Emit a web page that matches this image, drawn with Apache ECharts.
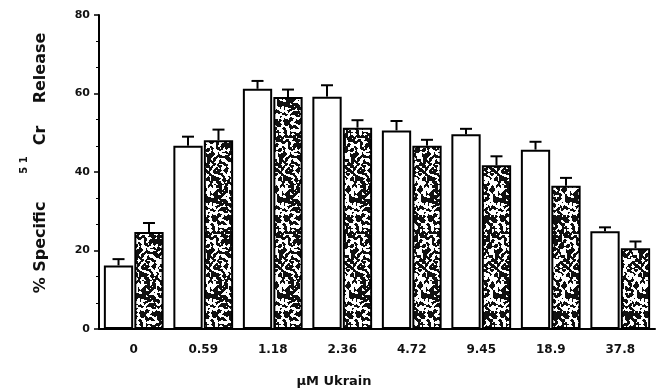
<!DOCTYPE html>
<html>
<head>
<meta charset="utf-8">
<title>51Cr release vs Ukrain</title>
<script src="https://cdn.jsdelivr.net/npm/echarts@6/dist/echarts.min.js"></script>
<style>
  html, body { margin: 0; padding: 0; background: #fff; }
  #chart { width: 660px; height: 391px; }
</style>
</head>
<body>
<div id="chart"></div>
<script>
// doses (x categories)
const doses = ['0', '0.59', '1.18', '2.36', '4.72', '9.45', '18.9', '37.8'];
// open bars
const openVals = [16.2, 46.7, 61.2, 59.2, 50.6, 49.6, 45.7, 24.9];
const openErr = [17.8, 49.0, 63.2, 62.1, 53.0, 51.0, 47.7, 25.9];
// stippled bars
const dotVals = [24.7, 48.1, 59.1, 51.3, 46.7, 41.7, 36.5, 20.6];
const dotErr = [27.0, 50.8, 61.0, 53.2, 48.2, 44.0, 38.5, 22.3];
const yTicks = [0, 20, 40, 60, 80];

// stipple texture: fine value noise from a fixed hash (styling only)
function stipple() {
  const w = 36, h = 96, cell = 2;
  const nx = w / cell, ny = h / cell;
  const hash = (i, j) => {
    const r = Math.sin(((i % nx) * 12.9898) + ((j % ny) * 78.233)) * 43758.5453;
    return r - Math.floor(r);
  };
  const c = document.createElement('canvas');
  c.width = w; c.height = h;
  const ctx = c.getContext('2d');
  ctx.fillStyle = '#fff';
  ctx.fillRect(0, 0, w, h);
  ctx.fillStyle = '#111';
  for (let y = 0; y < h; y++) {
    for (let x = 0; x < w; x++) {
      const gx = x / cell, gy = y / cell;
      const i = Math.floor(gx), j = Math.floor(gy);
      const fx = gx - i, fy = gy - j;
      const v = hash(i, j) * (1 - fx) * (1 - fy) + hash(i + 1, j) * fx * (1 - fy) +
                hash(i, j + 1) * (1 - fx) * fy + hash(i + 1, j + 1) * fx * fy;
      if (v < 0.54) ctx.fillRect(x, y, 1, 1);
    }
  }
  return c;
}

const chart = echarts.init(document.getElementById('chart'));
const FONT = 'DejaVu Sans';

const errData = [];
doses.forEach((d, i) => {
  errData.push([i, openVals[i], openErr[i], 0]);
  errData.push([i, dotVals[i], dotErr[i], 1]);
});

chart.setOption({
  animation: false,
  grid: { left: 99, right: 5, top: 15, bottom: 62, outerBoundsMode: 'none' },
  xAxis: {
    type: 'category',
    data: doses,
    name: 'µM Ukrain',
    nameLocation: 'middle',
    nameGap: 46,
    nameTextStyle: { fontFamily: FONT, fontWeight: 'bold', fontSize: 13, color: '#111', padding: [0, 86, 0, 0] },
    axisLine: { lineStyle: { color: '#000', width: 2 } },
    axisTick: { length: 3, lineStyle: { color: '#000', width: 1.5 } },
    axisLabel: { margin: 15, fontFamily: FONT, fontWeight: 'bold', fontSize: 12, color: '#111' }
  },
  yAxis: {
    type: 'value',
    min: 0, max: 80, interval: 20,
    name: '% Specific     {sup|5 1}  Cr    Release',
    nameLocation: 'middle',
    nameGap: 36,
    nameTextStyle: {
      fontFamily: FONT, fontWeight: 'bold', fontSize: 16, color: '#111', padding: [0, 0, 0, 18],
      rich: { sup: { fontFamily: FONT, fontWeight: 'bold', fontSize: 10, color: '#111', padding: [0, 0, 34, 0] } }
    },
    axisLine: { show: true, lineStyle: { color: '#000', width: 2 } },
    axisTick: { show: true, length: 5, lineStyle: { color: '#000', width: 1.5 } },
    minorTick: { show: true, splitNumber: 3, length: 3, lineStyle: { color: '#000', width: 1 } },
    splitLine: { show: false },
    axisLabel: {
      margin: 9, fontFamily: FONT, fontWeight: 'bold', fontSize: 11, color: '#111',
      formatter: v => yTicks.includes(v) ? String(v) : ''
    }
  },
  series: [
    {
      type: 'bar', data: openVals, barGap: '4%', barCategoryGap: '14%',
      itemStyle: { color: '#fff', borderColor: '#000', borderWidth: 2 }
    },
    {
      type: 'bar', data: dotVals,
      itemStyle: { color: { image: stipple(), repeat: 'repeat' }, borderColor: '#000', borderWidth: 2 }
    },
    {
      type: 'custom',
      data: errData,
      z: 5,
      renderItem: (params, api) => {
        const i = api.value(0);
        const band = api.size([1, 0])[0];
        const bw = band * 0.86 / 2.04;
        const off = (api.value(3) === 0 ? -1 : 1) * (bw / 2 + band * 0.86 * 0.02 / 2.04);
        const top = api.coord([i, api.value(2)]);
        const bot = api.coord([i, api.value(1)]);
        const x = top[0] + off;
        const st = { stroke: '#000', lineWidth: 2 };
        return {
          type: 'group',
          children: [
            { type: 'line', shape: { x1: x, y1: bot[1], x2: x, y2: top[1] }, style: st },
            { type: 'line', shape: { x1: x - 6, y1: top[1], x2: x + 6, y2: top[1] }, style: st }
          ]
        };
      }
    }
  ]
});
</script>
</body>
</html>
